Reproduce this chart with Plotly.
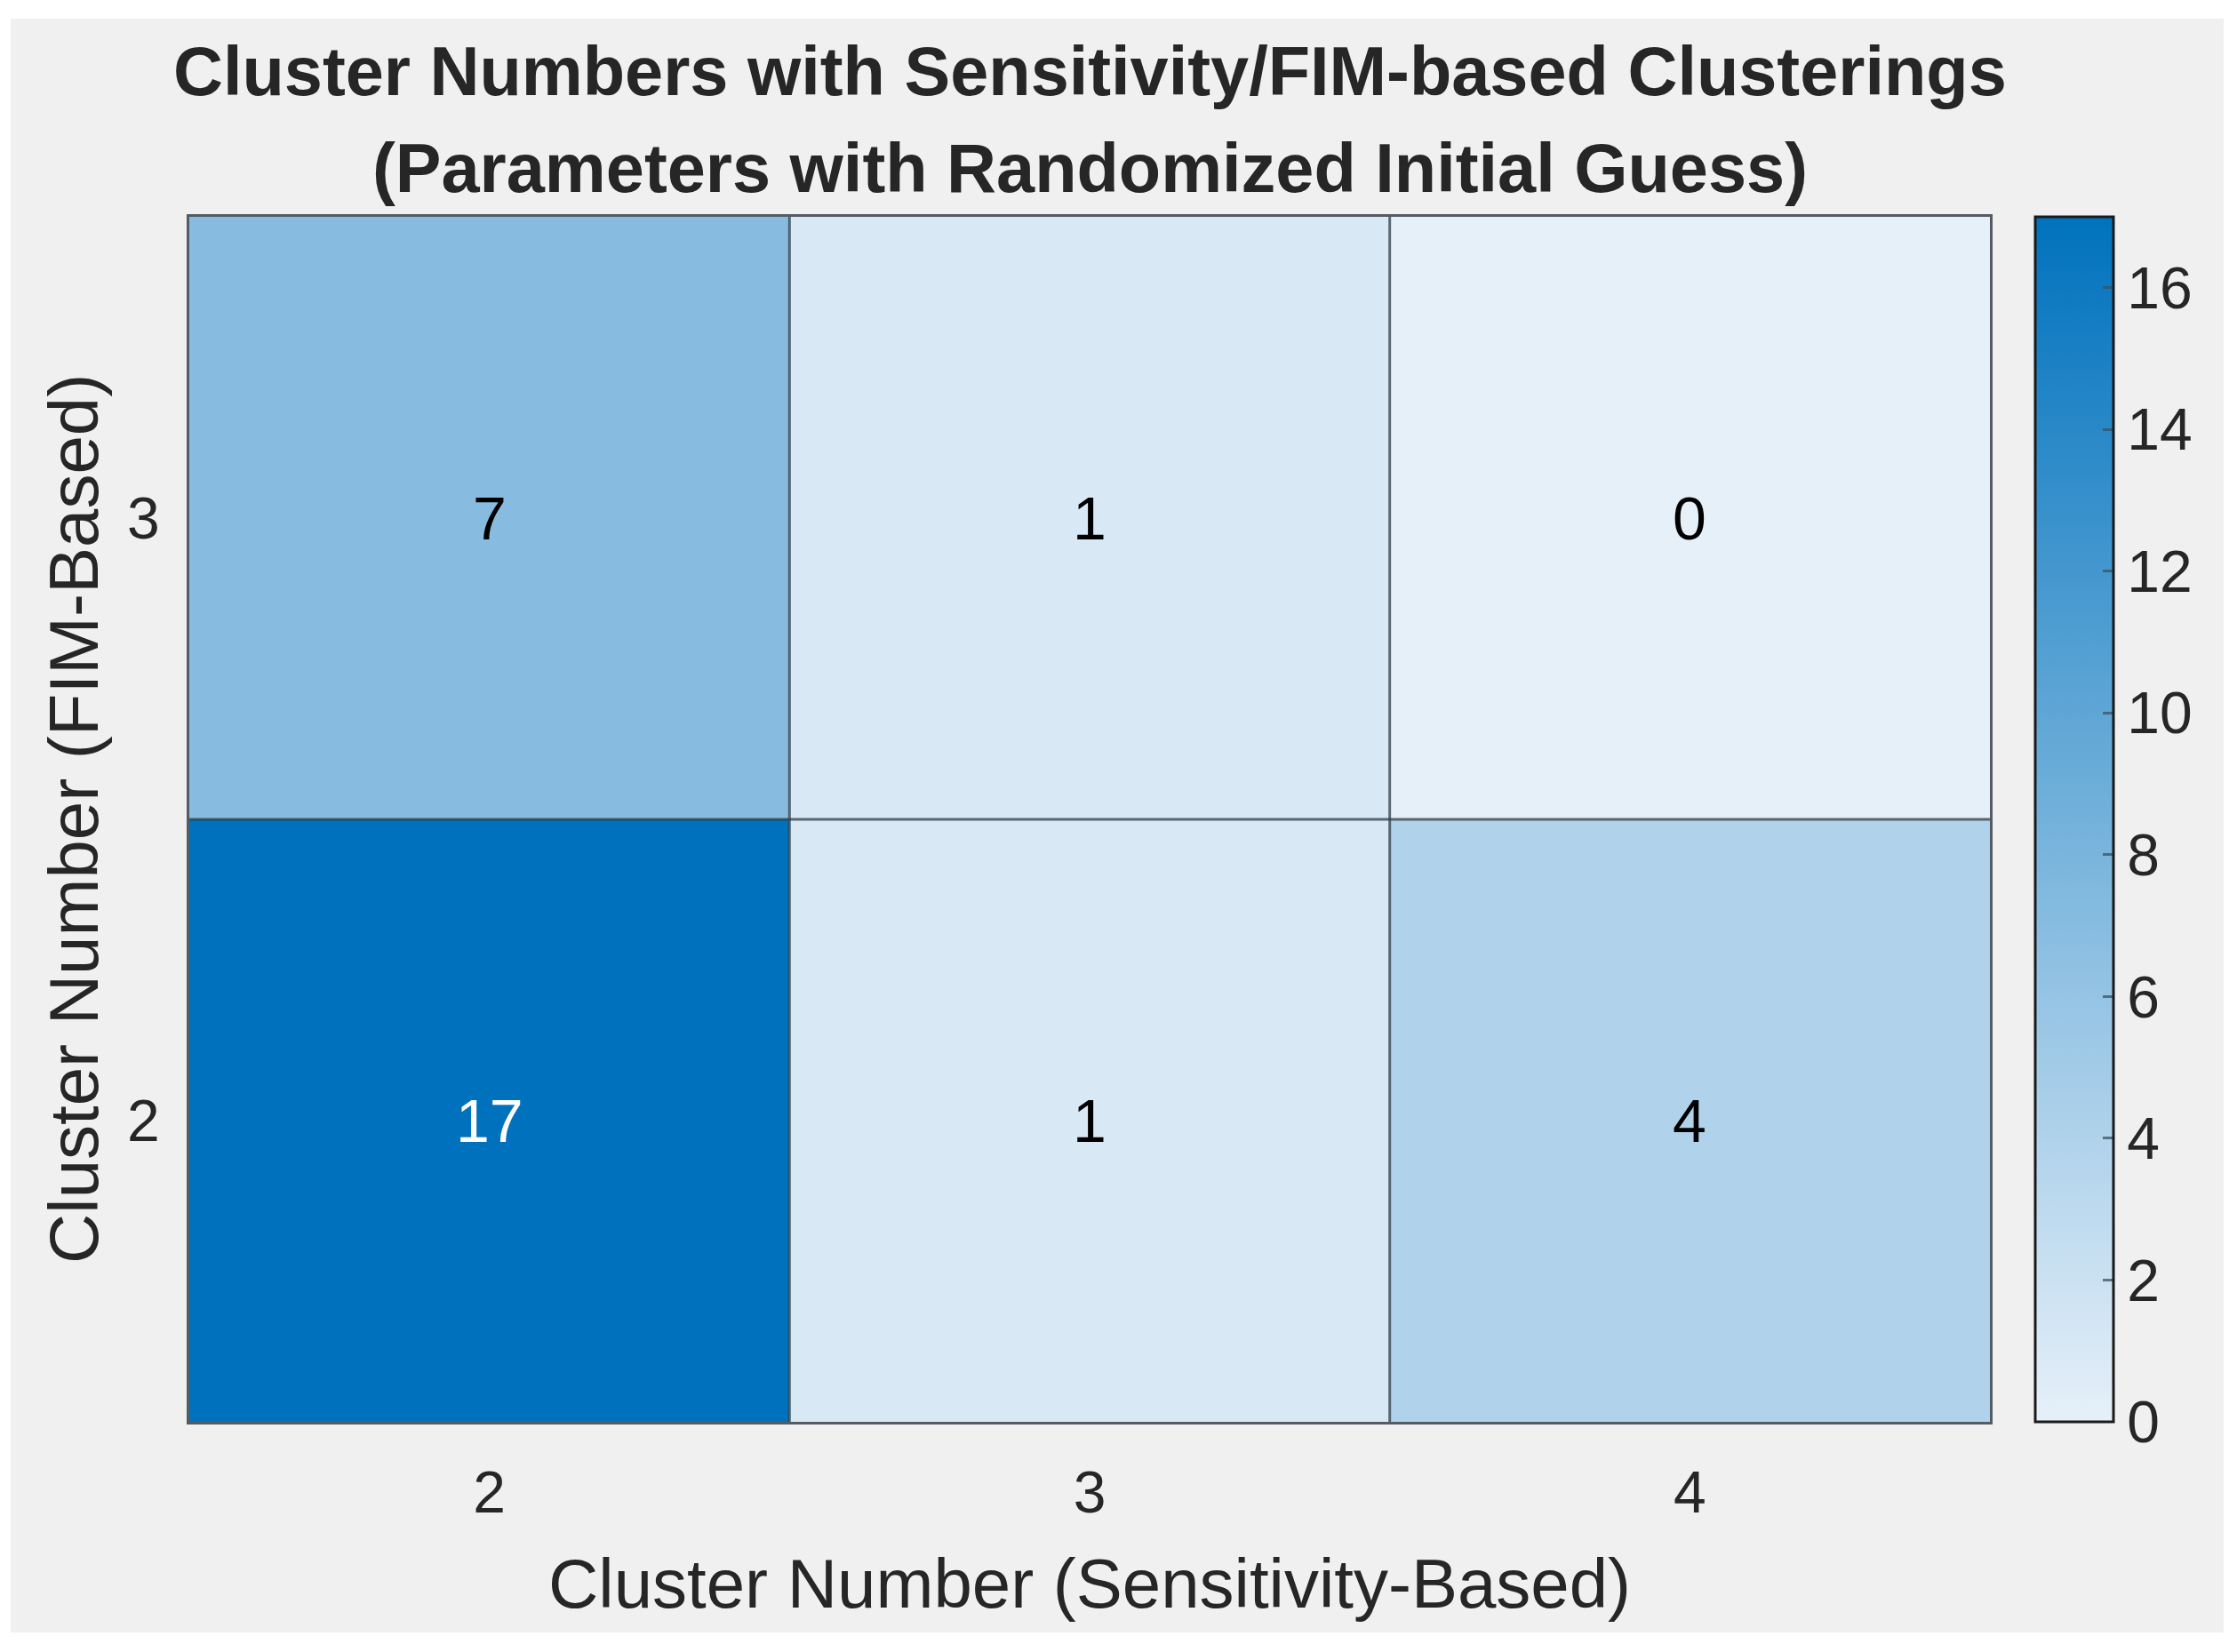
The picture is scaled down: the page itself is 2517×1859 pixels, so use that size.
import plotly.graph_objects as go

# ---- data ----
x_categories = [2, 3, 4]          # Cluster Number (Sensitivity-Based)
y_categories = [2, 3]             # Cluster Number (FIM-Based)
counts_row_2 = [17, 1, 4]
counts_row_3 = [7, 1, 0]
colorbar_ticks = [0, 2, 4, 6, 8, 10, 12, 14, 16]

z = [counts_row_2, counts_row_3]
zmin, zmax = 0, max(max(r) for r in z)

W, H = 2517, 1859
L, R, T, B = 213, 2239, 244, 1600
pw, ph = R - L, B - T

def px_x(p):
    return (p - L) / pw

def px_y(p):
    return (B - p) / ph

FONT = "Liberation Sans, Arial, Helvetica, sans-serif"
TXT = "#262626"

fig = go.Figure()
fig.add_trace(go.Heatmap(
    x=x_categories, y=y_categories, z=z,
    zmin=zmin, zmax=zmax,
    colorscale=[[0, "rgb(230,240,249)"], [1, "rgb(0,114,189)"]],
    showscale=True,
    hoverinfo="skip",
    colorbar=dict(
        x=px_x(2290), xanchor="left", xref="paper",
        y=0.5, yanchor="middle", len=1, lenmode="fraction",
        thickness=88, thicknessmode="pixels",
        xpad=0, ypad=0,
        outlinecolor="#1a1a1a", outlinewidth=3,
        tickvals=colorbar_ticks,
        ticktext=[str(v) for v in colorbar_ticks],
        ticks="inside", ticklen=13, tickwidth=3,
        tickcolor="rgba(60,80,95,0.75)",
        tickfont=dict(family=FONT, size=66, color=TXT),
    ),
))

# cell value labels
for yi, yv in enumerate(y_categories):
    for xi, xv in enumerate(x_categories):
        v = z[yi][xi]
        frac = (v - zmin) / (zmax - zmin)
        fig.add_annotation(
            x=xv, y=yv, xref="x", yref="y", text=str(v), showarrow=False,
            font=dict(family=FONT, size=68, color="white" if frac > 0.6 else "black"),
        )

# interior cell borders (midpoints between categories)
line_style = dict(color="rgba(50,60,68,0.75)", width=3)
for a, b in zip(x_categories[:-1], x_categories[1:]):
    m = (a + b) / 2
    fig.add_shape(type="line", xref="x", yref="paper", x0=m, x1=m, y0=0, y1=1,
                  line=line_style, layer="above")
for a, b in zip(y_categories[:-1], y_categories[1:]):
    m = (a + b) / 2
    fig.add_shape(type="line", xref="paper", yref="y", x0=0, x1=1, y0=m, y1=m,
                  line=line_style, layer="above")

# gray figure background
fig.add_shape(type="rect", xref="paper", yref="paper",
              x0=px_x(12), x1=px_x(2502), y0=px_y(1837), y1=px_y(21),
              fillcolor="#f0f0f0", line=dict(width=0), layer="below")

# title lines
fig.add_annotation(x=0.5, y=px_y(80), xref="paper", yref="paper", showarrow=False,
                   text="<b>Cluster Numbers with Sensitivity/FIM-based Clusterings</b>",
                   font=dict(family=FONT, size=77.5, color=TXT), yanchor="middle")
fig.add_annotation(x=0.5, y=px_y(189), xref="paper", yref="paper", showarrow=False,
                   text="<b>(Parameters with Randomized Initial Guess)</b>",
                   font=dict(family=FONT, size=77.5, color=TXT), yanchor="middle")
# axis titles
fig.add_annotation(x=0.5, y=px_y(1782), xref="paper", yref="paper", showarrow=False,
                   text="Cluster Number (Sensitivity-Based)",
                   font=dict(family=FONT, size=78, color=TXT), yanchor="middle")
fig.add_annotation(x=px_x(83), y=0.5, xref="paper", yref="paper", showarrow=False,
                   text="Cluster Number (FIM-Based)", textangle=-90,
                   font=dict(family=FONT, size=78, color=TXT),
                   xanchor="center", yanchor="middle")

axis_common = dict(
    showgrid=False, zeroline=False, showline=True, mirror=True,
    linecolor="rgba(55,65,75,0.85)", linewidth=3, ticks="",
    tickfont=dict(family=FONT, size=66, color=TXT),
)
fig.update_xaxes(range=[x_categories[0] - 0.5, x_categories[-1] + 0.5],
                 tickvals=x_categories, ticktext=[str(v) for v in x_categories],
                 ticklabelstandoff=20, **axis_common)
fig.update_yaxes(range=[y_categories[0] - 0.5, y_categories[-1] + 0.5],
                 tickvals=y_categories, ticktext=[str(v) for v in y_categories],
                 ticklabelstandoff=17, **axis_common)

fig.update_layout(
    width=W, height=H,
    margin=dict(l=L, r=W - R, t=T, b=H - B, autoexpand=False),
    paper_bgcolor="white", plot_bgcolor="#f0f0f0",
    showlegend=False,
)

fig.write_html("out.html", config={"displayModeBar": False},
               post_script="document.body.style.margin='0';")
